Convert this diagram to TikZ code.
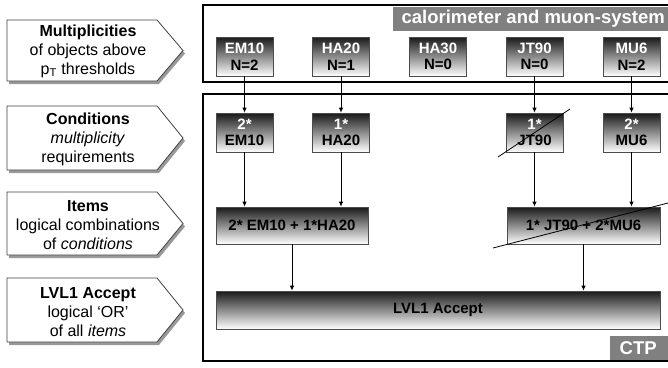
\documentclass[tikz,border=0pt]{standalone}
\usepackage{fontspec}
\setmainfont{Liberation Sans}
\usetikzlibrary{arrows.meta}
\tikzset{
  labelbox/.style={draw=black!75, line width=0.8pt, fill=white},
  labelshadow/.style={fill=black!40},
  labeltext/.style={align=center, inner sep=0pt, font=\fontsize{16}{19}\selectfont},
  frame/.style={draw=black, line width=2pt},
  graytag/.style={fill=black!50, text=white, inner sep=0pt, font=\fontsize{18.5}{20}\selectfont\bfseries},
  gnode/.style={rectangle, draw=black!70, line width=0.7pt, top color=black!90, bottom color=white,
    inner sep=0pt, align=center, font=\fontsize{15}{16.6}\selectfont\bfseries},
  smallnode/.style={gnode, minimum width=57pt, minimum height=39pt},
  flow/.style={draw=black, line width=0.9pt, -{Latex[length=5pt,width=4.5pt]}},
  strike/.style={draw=black, line width=0.8pt}
}
\begin{document}
\begin{tikzpicture}[x=1pt,y=-1pt]
\useasboundingbox (0,0) rectangle (668,367);
\clip (0,0) rectangle (668,367);

% left arrow-shaped labels
\foreach \t/\b in {20/81, 106/170, 192/255, 278/342}{
  \fill[labelshadow] ([shift={(2,3)}]7,\t) -- ([shift={(2,3)}]157,\t) -- ([shift={(2,3)}]183,{(\t+\b)/2}) -- ([shift={(2,3)}]157,\b) -- ([shift={(2,3)}]7,\b) -- cycle;
  \draw[labelbox] (7,\t) -- (157,\t) -- (183,{(\t+\b)/2}) -- (157,\b) -- (7,\b) -- cycle;
}
\node[labeltext] (l1) at (88,51) {\textbf{Multiplicities}\\of objects above\\p\textsubscript{T} thresholds};
\node[labeltext] (l2) at (88,139) {\textbf{Conditions}\\\textit{multiplicity}\\requirements};
\node[labeltext] (l3) at (88,225) {\textbf{Items}\\logical combinations\\of \textit{conditions}};
\node[labeltext] (l4) at (88,312) {\textbf{LVL1 Accept}\\logical `OR'\\of all \textit{items}};

% frames
\draw[frame] (203,5) rectangle (690,82);
\draw[frame] (203,94) rectangle (690,361);
\node[graytag, minimum width=280pt, minimum height=24pt, anchor=north west] (calo) at (393,7) {calorimeter and muon-system};
\node[graytag, minimum width=60pt, minimum height=24pt, anchor=north west] (ctp) at (610,336) {\hspace*{-4pt}CTP};

% top row
\node[smallnode] (t1) at (244.5,56.5) {{\color{white}EM10}\\N=2};
\node[smallnode] (t2) at (341,56.5) {{\color{white}HA20}\\N=1};
\node[smallnode] (t3) at (438,56.5) {{\color{white}HA30}\\N=0};
\node[smallnode] (t4) at (534.5,56.5) {{\color{white}JT90}\\N=0};
\node[smallnode] (t5) at (631.5,56.5) {{\color{white}MU6}\\N=2};

% conditions
\node[smallnode] (c1) at (244.5,132.5) {{\color{white}2*}\\EM10};
\node[smallnode] (c2) at (341,132.5) {{\color{white}1*}\\HA20};
\node[smallnode] (c4) at (534.5,132.5) {{\color{white}1*}\\JT90};
\node[smallnode] (c5) at (631.5,132.5) {{\color{white}2*}\\MU6};

% items
\node[gnode, minimum width=152pt, minimum height=37pt] (i1) at (292,225.5) {2* EM10 + 1*HA20};
\node[gnode, minimum width=153pt, minimum height=37pt] (i2) at (583.5,225.5) {1* JT90 + 2*MU6};

% accept
\node[gnode, minimum width=444pt, minimum height=38pt] (acc) at (438,310) {LVL1 Accept};

% arrows
\draw[flow] (t1) -- (c1);
\draw[flow] (t2) -- (c2);
\draw[flow] (t4) -- (c4);
\draw[flow] (t5) -- (c5);
\draw[flow] (c1) -- (c1 |- i1.north);
\draw[flow] (c2) -- (c2 |- i1.north);
\draw[flow] (c4) -- (c4 |- i2.north);
\draw[flow] (c5) -- (c5 |- i2.north);
\draw[flow] (i1) -- (i1 |- acc.north);
\draw[flow] (i2) -- (i2 |- acc.north);

% strike-through lines
\draw[strike] (498,157) -- (570,109);
\draw[strike] (493,248) -- (668,203);
\end{tikzpicture}
\end{document}
